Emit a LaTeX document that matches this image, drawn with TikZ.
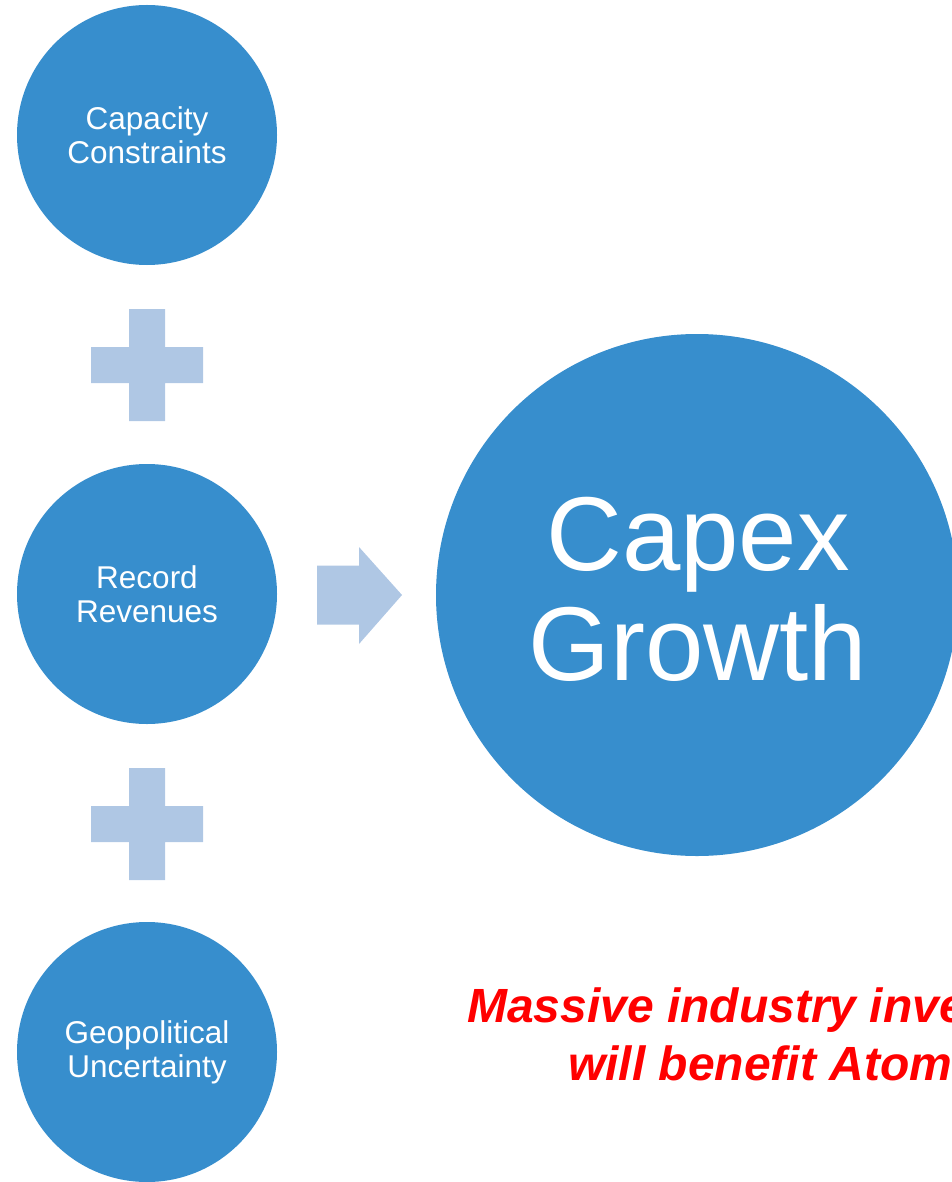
\documentclass[tikz,border=0pt]{standalone}
\usepackage{fontspec}
\setmainfont{Liberation Sans}
\definecolor{circblue}{RGB}{55,142,205}
\definecolor{paleblue}{RGB}{175,199,228}
\begin{document}
\begin{tikzpicture}[x=1pt,y=-1pt,
  smallcirc/.style={circle,fill=circblue,draw=none,minimum size=260pt,inner sep=0pt,text=white,align=center,font=\fontsize{31.5}{34}\selectfont},
  bigcirc/.style={circle,fill=circblue,draw=none,minimum size=522pt,inner sep=0pt},
  bigtext/.style={text=white,align=center,inner sep=0pt,font=\fontsize{105}{110}\selectfont},
  plusshape/.style={fill=paleblue,draw=none},
  redtext/.style={text=red,font=\fontsize{48}{58}\selectfont\bfseries\itshape,inner sep=0pt}]
\useasboundingbox (0,0) rectangle (951,1182);
\node[smallcirc] (cap) at (147,135) {Capacity\\Constraints};
\node[smallcirc] (rec) at (147,594) {Record\\Revenues};
\node[smallcirc] (geo) at (147,1052) {Geopolitical\\Uncertainty};
\node[bigcirc] (capex) at (697,595) {};
\node[bigtext] (capextext) at (698,589) {Capex\\Growth};
% plus signs
\coordinate (p1) at (147,365);
\coordinate (p2) at (147,824);
\foreach \p in {p1,p2}{
  \fill[plusshape] ([xshift=-18pt,yshift=-56pt]\p) -- ([xshift=18pt,yshift=-56pt]\p)
    -- ([xshift=18pt,yshift=-18pt]\p) -- ([xshift=56pt,yshift=-18pt]\p)
    -- ([xshift=56pt,yshift=18pt]\p) -- ([xshift=18pt,yshift=18pt]\p)
    -- ([xshift=18pt,yshift=56pt]\p) -- ([xshift=-18pt,yshift=56pt]\p)
    -- ([xshift=-18pt,yshift=18pt]\p) -- ([xshift=-56pt,yshift=18pt]\p)
    -- ([xshift=-56pt,yshift=-18pt]\p) -- ([xshift=-18pt,yshift=-18pt]\p) -- cycle;
}
% arrow
\coordinate (ar) at (317,595);
\fill[plusshape] ([yshift=-29.5pt]ar) -- ([xshift=42pt,yshift=-29.5pt]ar)
  -- ([xshift=42pt,yshift=-49pt]ar) -- ([xshift=85pt]ar)
  -- ([xshift=42pt,yshift=48pt]ar) -- ([xshift=42pt,yshift=29.5pt]ar)
  -- ([yshift=29.5pt]ar) -- cycle;
% red text
\node[redtext,anchor=base west] (l1) at (467,1022) {Massive industry inve};
\node[redtext,anchor=base west] (l2) at (568,1080) {will benefit Atom};
\end{tikzpicture}
\end{document}
